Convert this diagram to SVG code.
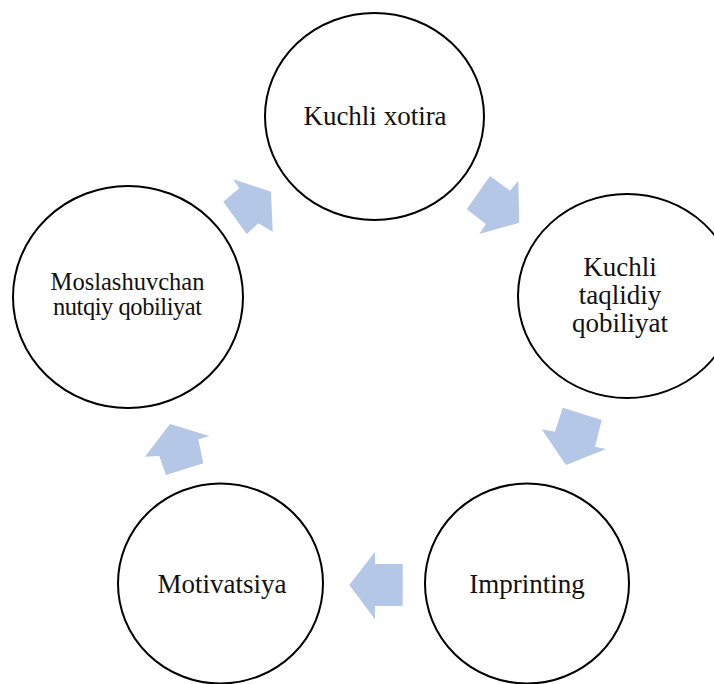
<svg xmlns="http://www.w3.org/2000/svg" width="714" height="684" viewBox="0 0 714 684">
<style>
.node ellipse{fill:#fff;stroke:#000;stroke-width:2}
.node text{font-family:"Liberation Serif","Times New Roman",serif;font-size:27px;fill:#111;text-anchor:middle}
.node text.sm{font-size:24.5px}
.arr polygon{fill:#B4C7E7;stroke:none}
</style>
<rect width="714" height="684" fill="#fff"/>
<g id="connectors" class="arr">
<polygon points="233.3,179.3 271,191.7 272.7,231.7 258.3,223.3 246.7,234 223.3,201.7 239.3,188.3"/>
<polygon points="490,176 510,190.7 518.3,180.7 519.3,222.7 479.3,234 486,224 466.7,209.3"/>
<polygon points="562.7,407.7 601.7,420 595,446.7 606,449 566,465 541.7,429.3 555,431.7"/>
<polygon points="402.7,564 375,564 375,551.7 349.3,585 375,619.3 375,606 402.7,606"/>
<polygon points="170,424 209.3,436 198.3,439.3 203.3,463.3 166,475 159.3,456 145,456.7"/>
</g>
<g id="node-kuchli-xotira" class="node">
<ellipse cx="374.5" cy="116.5" rx="109.5" ry="103.5"/>
<text x="375" y="125">Kuchli xotira</text>
</g>
<g id="node-kuchli-taqlidiy" class="node">
<ellipse cx="627" cy="296" rx="109" ry="102"/>
<text x="620" y="276">Kuchli</text>
<text x="620" y="303.5">taqlidiy</text>
<text x="620" y="331.5">qobiliyat</text>
</g>
<g id="node-imprinting" class="node">
<ellipse cx="527" cy="583.5" rx="102" ry="100"/>
<text x="527" y="593">Imprinting</text>
</g>
<g id="node-motivatsiya" class="node">
<ellipse cx="220.5" cy="583.5" rx="102.5" ry="100"/>
<text x="222" y="593">Motivatsiya</text>
</g>
<g id="node-moslashuvchan" class="node">
<ellipse cx="128" cy="297" rx="115" ry="111"/>
<text class="sm" x="127.5" y="290">Moslashuvchan</text>
<text class="sm" x="127.5" y="315" textLength="149" lengthAdjust="spacing">nutqiy qobiliyat</text>
</g>
</svg>
